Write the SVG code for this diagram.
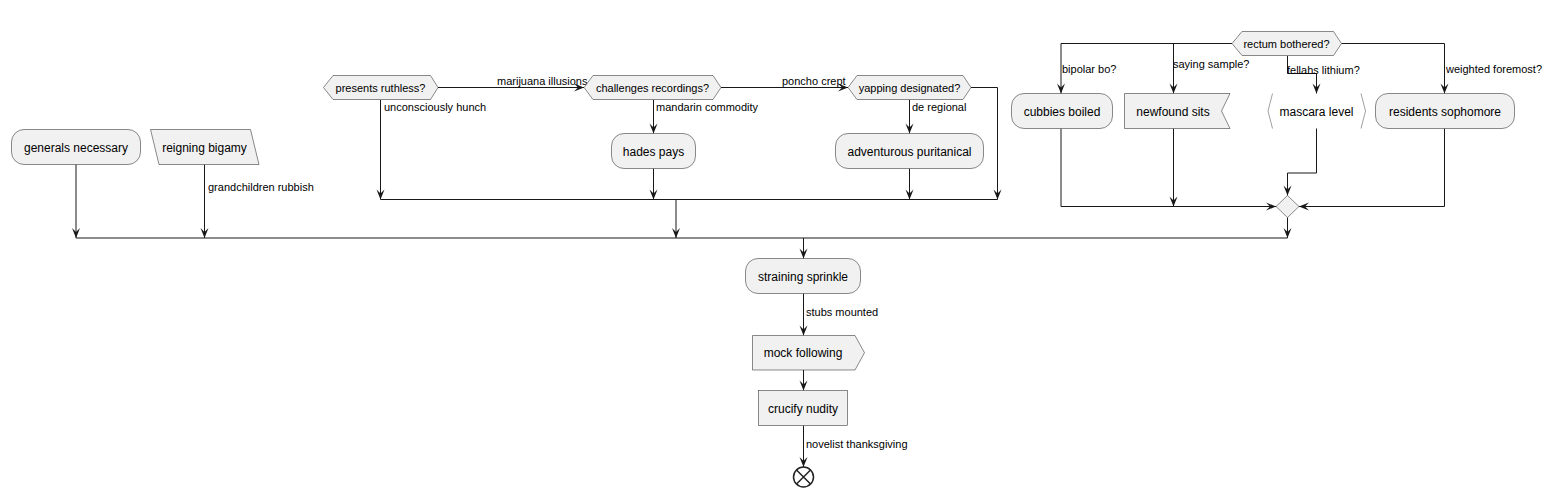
<svg xmlns="http://www.w3.org/2000/svg" width="1552" height="497" viewBox="0 0 1552 497">
<style>
.n{fill:#F1F1F1;stroke:#181818;stroke-width:0.5}
.g{fill:none;stroke:#888;stroke-width:0.8}
.t{font-family:"Liberation Sans",Arial,sans-serif;font-size:12px;fill:#000;text-anchor:middle}
.s{font-family:"Liberation Sans",Arial,sans-serif;font-size:11px;fill:#000;text-anchor:middle}
.l{font-family:"Liberation Sans",Arial,sans-serif;font-size:11px;fill:#000}
.e{fill:none;stroke:#181818;stroke-width:1}
.ea{fill:none;stroke:#181818;stroke-width:1;marker-end:url(#ah)}
.bar{fill:none;stroke:#181818;stroke-width:1.5}
</style>
<defs>
<marker id="ah" markerWidth="12" markerHeight="10" viewBox="-11 -5 12 10" refX="0" refY="0" orient="auto" markerUnits="userSpaceOnUse">
<path d="M0,0 L-10,-4 L-6,0 L-10,4 Z" fill="#181818"/>
</marker>
</defs>
<rect width="1552" height="497" fill="#fff"/>

<g id="connectors">
<path class="ea" d="M76,164.5 V238"/>
<path class="ea" d="M204.5,164.5 V238"/>
<path class="ea" d="M380.5,100 V199.5"/>
<path class="ea" d="M438,87.5 H584"/>
<path class="ea" d="M653.5,100 V133.5"/>
<path class="ea" d="M653.5,168.5 V199.5"/>
<path class="ea" d="M721,87.5 H848"/>
<path class="ea" d="M909.5,100 V133.5"/>
<path class="ea" d="M909.5,168.5 V199.5"/>
<path class="ea" d="M971,87.5 H997.5 V199.5"/>
<path class="e" d="M380.5,199.5 H997.5"/>
<path class="ea" d="M676,199.5 V238"/>
<path class="ea" d="M1232,43.5 H1061 V93.5"/>
<path class="ea" d="M1173.5,43.5 V93.5"/>
<path class="ea" d="M1287.5,56 V73.5 H1316.5 V93.5"/>
<path class="ea" d="M1341.5,43.5 H1444.5 V93.5"/>
<path class="ea" d="M1061,128.5 V206.5 H1276"/>
<path class="ea" d="M1173.5,128.5 V206.5"/>
<path class="ea" d="M1316.5,128.5 V173 H1287.5 V195.5"/>
<path class="ea" d="M1444.5,128.5 V206.5 H1299"/>
<path class="ea" d="M1287.5,217.5 V238"/>
<path class="e" d="M76,238 H1287.5"/>
<path class="ea" d="M803.5,238 V258.5"/>
<path class="ea" d="M803.5,293.5 V335.5"/>
<path class="ea" d="M803.5,370 V390.5"/>
<path class="ea" d="M803.5,425.5 V467"/>
<text class="l" x="208" y="191">grandchildren rubbish</text>
<text class="l" x="384" y="111">unconsciously hunch</text>
<text class="l" x="497" y="85">marijuana illusions</text>
<text class="l" x="656" y="111">mandarin commodity</text>
<text class="l" x="782" y="85">poncho crept</text>
<text class="l" x="912" y="111">de regional</text>
<text class="l" x="1062" y="73">bipolar bo?</text>
<text class="l" x="1173" y="68">saying sample?</text>
<text class="l" x="1287" y="74">fellahs lithium?</text>
<text class="l" x="1446" y="73">weighted foremost?</text>
<text class="l" x="806" y="316">stubs mounted</text>
<text class="l" x="806" y="448">novelist thanksgiving</text>
</g>

<g id="generals-necessary">
<rect class="n" x="11.5" y="129.5" width="129" height="35" rx="12.5"/>
<text class="t" x="76" y="151.5">generals necessary</text>
</g>
<g id="reigning-bigamy">
<path class="n" d="M150.5,129.5 H250.5 L259,164.5 H159 Z"/>
<text class="t" x="204.5" y="151.5">reigning bigamy</text>
</g>
<g id="presents-ruthless">
<path class="n" d="M323.5,87.5 L333,75.5 H430.5 L438,87.5 L430.5,99.5 H333 Z"/>
<text class="s" x="380.5" y="91.5">presents ruthless?</text>
</g>
<g id="challenges-recordings">
<path class="n" d="M584,87.5 L593,75.5 H713 L721,87.5 L713,99.5 H593 Z"/>
<text class="s" x="652.5" y="91.5">challenges recordings?</text>
</g>
<g id="hades-pays">
<rect class="n" x="611.5" y="133.5" width="84" height="35" rx="12.5"/>
<text class="t" x="653.5" y="155.5">hades pays</text>
</g>
<g id="yapping-designated">
<path class="n" d="M848,87.5 L857,75.5 H963 L971,87.5 L963,99.5 H857 Z"/>
<text class="s" x="909.5" y="91.5">yapping designated?</text>
</g>
<g id="adventurous-puritanical">
<rect class="n" x="835.5" y="133.5" width="148" height="35" rx="12.5"/>
<text class="t" x="909.5" y="155.5">adventurous puritanical</text>
</g>
<g id="rectum-bothered">
<path class="n" d="M1232,43.5 L1242,31.5 H1333.5 L1341.5,43.5 L1333.5,55.5 H1242 Z"/>
<text class="s" x="1286.5" y="47.5">rectum bothered?</text>
</g>
<g id="cubbies-boiled">
<rect class="n" x="1011.5" y="93.5" width="101" height="35" rx="12.5"/>
<text class="t" x="1062" y="115.5">cubbies boiled</text>
</g>
<g id="newfound-sits">
<path class="n" d="M1124.5,93.5 H1230 L1221.5,111 L1230,128.5 H1124.5 Z"/>
<text class="t" x="1173" y="115.5">newfound sits</text>
</g>
<g id="mascara-level">
<path class="g" d="M1272.5,93.5 L1268,111 L1272.5,128.5 M1361,93.5 L1365.5,111 L1361,128.5"/>
<text class="t" x="1316.5" y="115.5">mascara level</text>
</g>
<g id="residents-sophomore">
<rect class="n" x="1375.5" y="93.5" width="139" height="35" rx="12.5"/>
<text class="t" x="1445" y="115.5">residents sophomore</text>
</g>
<g id="merge">
<path class="n" d="M1287.5,195.5 L1299,206.5 L1287.5,217.5 L1276,206.5 Z"/>
</g>
<g id="straining-sprinkle">
<rect class="n" x="745.5" y="258.5" width="115" height="35" rx="12.5"/>
<text class="t" x="803" y="280.5">straining sprinkle</text>
</g>
<g id="mock-following">
<path class="n" d="M752.5,335.5 H855 L864.5,352.75 L855,370 H752.5 Z"/>
<text class="t" x="803" y="357">mock following</text>
</g>
<g id="crucify-nudity">
<rect class="n" x="758.5" y="390.5" width="89" height="35"/>
<text class="t" x="803" y="412.5">crucify nudity</text>
</g>
<g id="end">
<circle cx="803.5" cy="477" r="10" fill="#fff" stroke="#222" stroke-width="1.5"/>
<path d="M796.5,470 L810.5,484 M810.5,470 L796.5,484" stroke="#222" stroke-width="1.5"/>
</g>
</svg>
